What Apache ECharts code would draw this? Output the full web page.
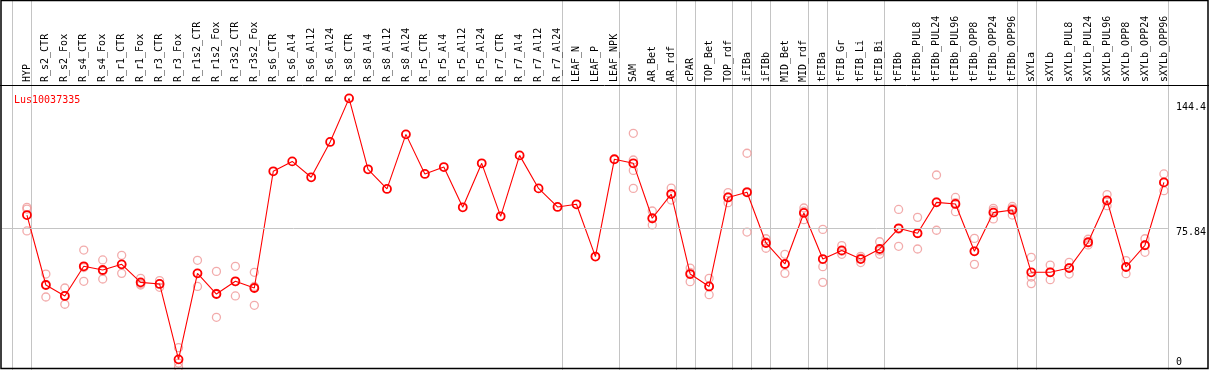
<!DOCTYPE html>
<html><head><meta charset="utf-8">
<script src="https://cdn.jsdelivr.net/npm/echarts@6/dist/echarts.min.js"></script>
<style>html,body{margin:0;padding:0;background:#fff}#c{width:1209px;height:370px}</style>
</head><body><div id="c"></div>
<script>
const title = 'Lus10037335';
const categories = ['HYP','R_s2_CTR','R_s2_Fox','R_s4_CTR','R_s4_Fox','R_r1_CTR','R_r1_Fox','R_r3_CTR','R_r3_Fox','R_r1s2_CTR','R_r1s2_Fox','R_r3s2_CTR','R_r3s2_Fox','R_s6_CTR','R_s6_Al4','R_s6_Al12','R_s6_Al24','R_s8_CTR','R_s8_Al4','R_s8_Al12','R_s8_Al24','R_r5_CTR','R_r5_Al4','R_r5_Al12','R_r5_Al24','R_r7_CTR','R_r7_Al4','R_r7_Al12','R_r7_Al24','LEAF_N','LEAF_P','LEAF_NPK','SAM','AR_Bet','AR_rdf','cPAR','TOP_Bet','TOP_rdf','iFIBa','iFIBb','MID_Bet','MID_rdf','tFIBa','tFIB_Gr','tFIB_Li','tFIB_Bi','tFIBb','tFIBb_PUL8','tFIBb_PUL24','tFIBb_PUL96','tFIBb_OPP8','tFIBb_OPP24','tFIBb_OPP96','sXYLa','sXYLb','sXYLb_PUL8','sXYLb_PUL24','sXYLb_PUL96','sXYLb_OPP8','sXYLb_OPP24','sXYLb_OPP96'];
const meanValues = [83.2,43.6,37.4,54.2,52.1,55.3,45.1,44.2,1.5,50.2,38.5,45.7,41.9,108.0,113.6,104.6,124.6,149.3,109.1,98.0,128.9,106.5,110.4,87.6,112.5,82.5,117.0,98.3,87.8,89.3,59.7,114.8,112.5,81.4,95.1,49.8,42.8,93.2,96.1,67.4,55.5,84.4,58.3,63.2,58.3,64.0,75.7,72.9,90.4,89.5,62.7,84.6,86.1,50.8,50.8,53.2,67.8,91.5,53.8,66.1,101.7];
const replicateValues = [
  [87.6,86.6,74.2],[49.8,44.0,36.8],[41.9,37.6,32.7],[63.4,53.5,45.7],[57.8,51.5,47.0],
  [60.4,55.3,50.2],[47.4,44.3,43.6],[46.1,44.2,42.3],[8.1,-0.6,-3.0],[57.6,50.2,42.8],
  [51.3,38.9,25.3],[54.2,45.5,37.4],[50.8,42.8,32.1],
  [],[],[],[],[],[],[],[],[],[],[],[],[],[],[],[],[],[],[],
  [129.5,114.4,108.5,98.3],[85.5,81.1,77.6],[98.5,95.1,91.7],[53.2,50.7,45.5],[47.4,42.9,38.1],
  [95.9,93.5,90.2],[118.2,96.5,73.6],[69.8,68.0,64.4],[61.0,55.3,50.2],[87.2,85.4,80.6],
  [75.1,54.0,45.1],[65.9,62.7,61.0],[59.8,58.8,56.3],[68.1,62.9,61.0],[86.4,75.2,65.5],
  [81.9,72.8,64.0],[105.9,90.7,74.6],[93.2,90.2,85.1],[70.0,62.8,55.3],[87.0,85.8,81.0],
  [88.1,87.0,83.2],[59.3,48.1,44.4],[54.9,50.9,46.6],[56.4,53.4,49.8],[69.5,67.6,66.3],
  [94.8,91.2,88.5],[57.4,54.0,50.0],[69.8,66.4,62.1],[106.5,101.6,97.0]
];
const yTickValues = [0, 75.84, 144.4];
const gridLineValue = 75.84;
const separatorsAfter = [-1,0,28,31,34,35,37,38,39,41,42,45,52,53,60];

const MONO = 'DejaVu Sans Mono';
const chart = echarts.init(document.getElementById('c'), null, {renderer: 'canvas'});
const xMin = -25/19, xMax = xMin + 1169/19;
const yMin = -3.40, yMax = 156.86;

const meanData = meanValues.map((v, i) => [i, v]);
const repData = [];
replicateValues.forEach((arr, i) => arr.forEach(v => repData.push([i, v])));

chart.setOption({
  animation: false,
  backgroundColor: '#fff',
  title: {text: title, left: 9, top: 90, textStyle: {color: '#ff0000', fontSize: 10, fontFamily: MONO, fontWeight: 'normal'}},
  grid: {left: 2, right: 38, top: 85, bottom: 2, containLabel: false},
  xAxis: {
    type: 'value', min: xMin, max: xMax, position: 'top',
    axisLine: {show: false}, axisTick: {show: false}, splitLine: {show: false},
    axisLabel: {
      customValues: categories.map((c, i) => i),
      formatter: v => categories[Math.round(v)] || '',
      rotate: 90, margin: 3, fontFamily: MONO, fontSize: 10, color: '#000'
    }
  },
  yAxis: {
    type: 'value', position: 'right', min: yMin, max: yMax,
    axisLine: {show: false}, axisTick: {show: false}, splitLine: {show: false},
    axisLabel: {
      customValues: yTickValues,
      formatter: v => (v === gridLineValue ? '{d|' + v + '}' : String(v)),
      rich: {d: {padding: [8, 0, 0, 0], fontFamily: MONO, fontSize: 10, color: '#000'}},
      margin: 8, fontFamily: MONO, fontSize: 10, color: '#000'
    }
  },
  series: [
    {
      type: 'scatter', data: repData, z: 2,
      symbol: 'circle', symbolSize: 8,
      itemStyle: {color: 'rgba(0,0,0,0)', borderColor: '#ef9696', borderWidth: 1.3},
      markLine: {
        silent: true, symbol: 'none', label: {show: false},
        lineStyle: {color: '#c4c4c4', width: 1, type: 'solid'},
        data: [{yAxis: gridLineValue}]
      }
    },
    {
      type: 'line', data: meanData, z: 3,
      symbol: 'circle', symbolSize: 8, showAllSymbol: true,
      lineStyle: {color: '#ff0000', width: 1.1},
      itemStyle: {color: 'rgba(0,0,0,0)', borderColor: '#ff0000', borderWidth: 1.8}
    }
  ]
});

const gfx = [];
separatorsAfter.forEach(i => {
  const x = Math.round(chart.convertToPixel({xAxisIndex: 0}, i + 0.23)) + 0.5;
  gfx.push({type: 'line', silent: true, z: 0, shape: {x1: x, y1: 0, x2: x, y2: 370}, style: {stroke: '#c4c4c4', lineWidth: 1}});
});
gfx.push({type: 'line', silent: true, z: 10, shape: {x1: 0, y1: 85.5, x2: 1209, y2: 85.5}, style: {stroke: '#000', lineWidth: 1}});
gfx.push({type: 'rect', silent: true, z: 10, shape: {x: 1, y: 0.5, width: 1207, height: 368}, style: {fill: 'none', stroke: '#000', lineWidth: 1.5}});
chart.setOption({graphic: gfx});
</script></body></html>
